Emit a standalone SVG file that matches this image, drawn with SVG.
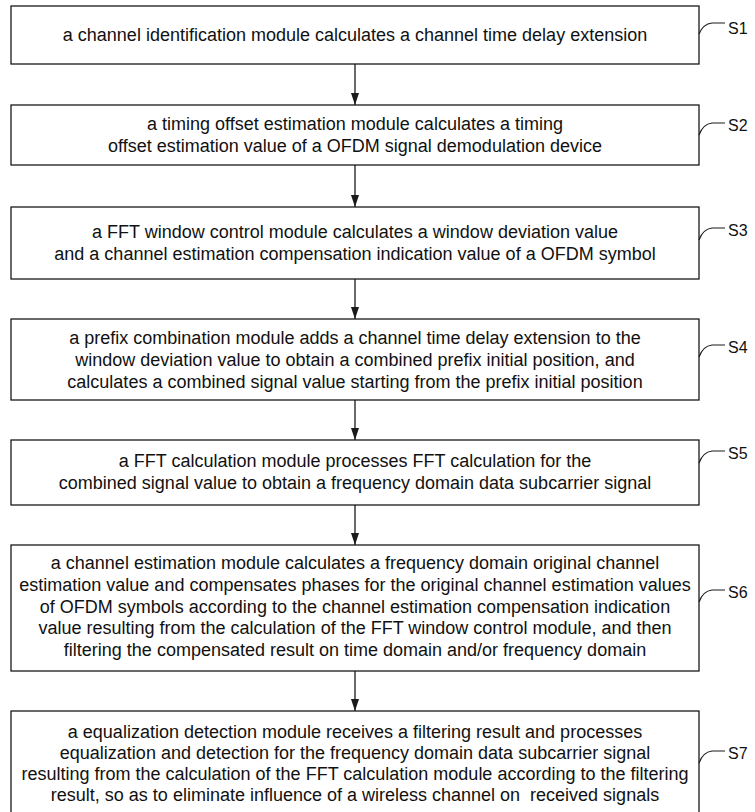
<svg xmlns="http://www.w3.org/2000/svg" width="755" height="812" viewBox="0 0 755 812">
<style>
.box{fill:#fff;stroke:#1a1a1a;stroke-width:1.3}
.t{font-family:"Liberation Sans",Arial,sans-serif;font-size:18px;fill:#111;text-anchor:middle;white-space:pre}
.lb{font-family:"Liberation Sans",Arial,sans-serif;font-size:16px;fill:#111}
.ld{fill:none;stroke:#1a1a1a;stroke-width:1.2}
.ar{fill:none;stroke:#1a1a1a;stroke-width:1.3}
</style>
<defs>
<marker id="ah" markerWidth="12" markerHeight="10" refX="12" refY="4" orient="auto" markerUnits="userSpaceOnUse">
<path d="M0,0 L12,4 L0,8 Z" fill="#1a1a1a"/>
</marker>
</defs>
<rect width="755" height="812" fill="#fff"/>
<g id="connectors">
<line class="ar" x1="355" y1="64" x2="355" y2="105" marker-end="url(#ah)"/>
<line class="ar" x1="355" y1="165" x2="355" y2="207" marker-end="url(#ah)"/>
<line class="ar" x1="355" y1="279" x2="355" y2="319" marker-end="url(#ah)"/>
<line class="ar" x1="355" y1="400" x2="355" y2="440" marker-end="url(#ah)"/>
<line class="ar" x1="355" y1="505" x2="355" y2="545" marker-end="url(#ah)"/>
<line class="ar" x1="355" y1="671" x2="355" y2="711" marker-end="url(#ah)"/>
</g>
<g id="S1">
<rect class="box" x="11" y="6" width="688" height="58"/>
<text class="t" x="355" y="41">a channel identification module calculates a channel time delay extension</text>
<path class="ld" d="M699,34 Q703,24 712,23 L725,23"/>
<text class="lb" x="728" y="34">S1</text>
</g>
<g id="S2">
<rect class="box" x="11" y="105" width="688" height="60"/>
<text class="t" x="355" y="130">a timing offset estimation module calculates a timing</text>
<text class="t" x="355" y="152">offset estimation value of a OFDM signal demodulation device</text>
<path class="ld" d="M699,135 Q703,124 712,123 L725,123"/>
<text class="lb" x="728" y="131">S2</text>
</g>
<g id="S3">
<rect class="box" x="11" y="207" width="688" height="72"/>
<text class="t" x="355" y="238">a FFT window control module calculates a window deviation value</text>
<text class="t" x="355" y="260">and a channel estimation compensation indication value of a OFDM symbol</text>
<path class="ld" d="M699,240 Q703,229 712,228 L725,228"/>
<text class="lb" x="728" y="236">S3</text>
</g>
<g id="S4">
<rect class="box" x="11" y="319" width="688" height="81"/>
<text class="t" x="355" y="344">a prefix combination module adds a channel time delay extension to the</text>
<text class="t" x="355" y="366">window deviation value to obtain a combined prefix initial position, and</text>
<text class="t" x="355" y="388">calculates a combined signal value starting from the prefix initial position</text>
<path class="ld" d="M699,357 Q703,346 712,345 L725,345"/>
<text class="lb" x="728" y="353">S4</text>
</g>
<g id="S5">
<rect class="box" x="11" y="440" width="688" height="65"/>
<text class="t" x="355" y="467">a FFT calculation module processes FFT calculation for the</text>
<text class="t" x="355" y="489">combined signal value to obtain a frequency domain data subcarrier signal</text>
<path class="ld" d="M699,463 Q703,452 712,451 L725,451"/>
<text class="lb" x="728" y="459">S5</text>
</g>
<g id="S6">
<rect class="box" x="11" y="545" width="688" height="126"/>
<text class="t" x="355" y="569">a channel estimation module calculates a frequency domain original channel</text>
<text class="t" x="355" y="591">estimation value and compensates phases for the original channel estimation values</text>
<text class="t" x="355" y="613">of OFDM symbols according to the channel estimation compensation indication</text>
<text class="t" x="355" y="634">value resulting from the calculation of the FFT window control module, and then</text>
<text class="t" x="355" y="656">filtering the compensated result on time domain and/or frequency domain</text>
<path class="ld" d="M699,602 Q703,591 712,590 L725,590"/>
<text class="lb" x="728" y="598">S6</text>
</g>
<g id="S7">
<rect class="box" x="11" y="711" width="688" height="104"/>
<text class="t" x="355" y="738">a equalization detection module receives a filtering result and processes</text>
<text class="t" x="355" y="759">equalization and detection for the frequency domain data subcarrier signal</text>
<text class="t" x="355" y="780">resulting from the calculation of the FFT calculation module according to the filtering</text>
<text class="t" x="355" y="801">result, so as to eliminate influence of a wireless channel on  received signals</text>
<path class="ld" d="M699,763 Q703,752 712,751 L725,751"/>
<text class="lb" x="728" y="759">S7</text>
</g>
</svg>
